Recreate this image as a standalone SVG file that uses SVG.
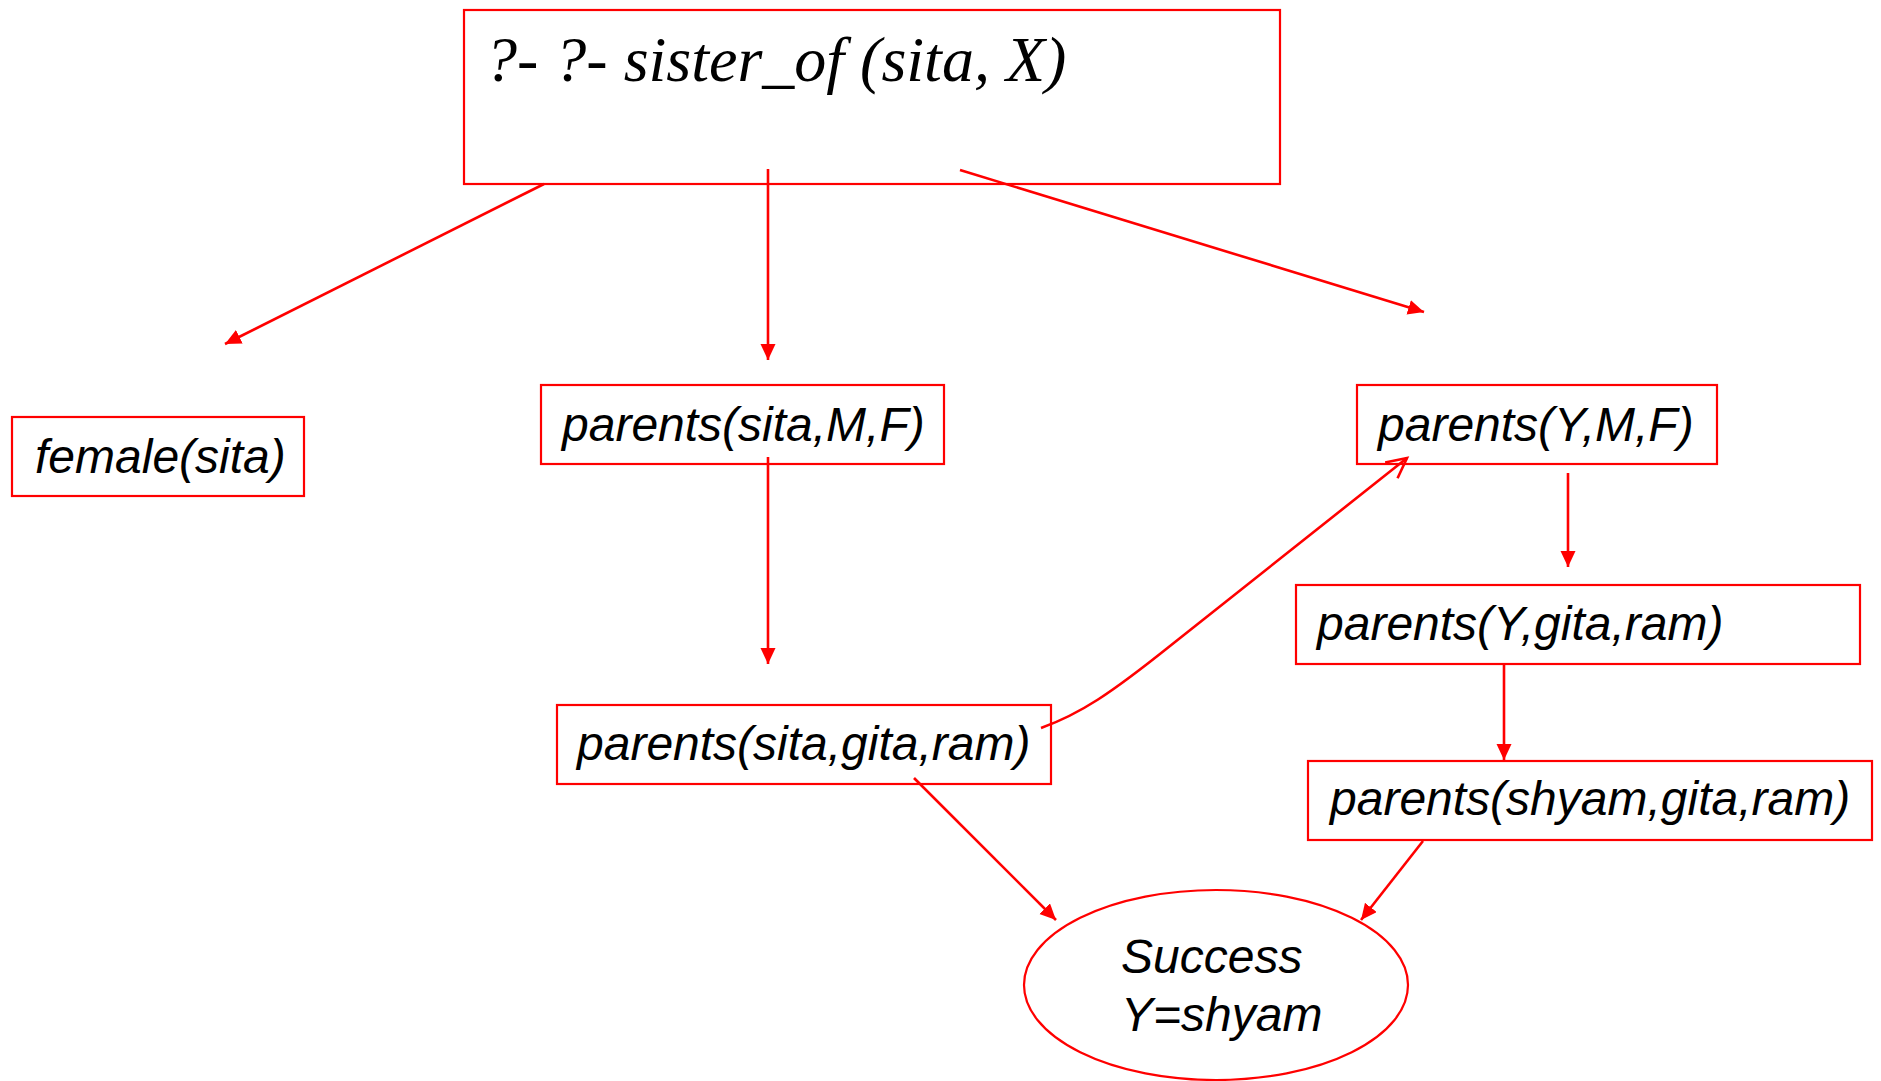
<svg xmlns="http://www.w3.org/2000/svg" width="1881" height="1081" viewBox="0 0 1881 1081">
<style>
.box{fill:#ffffff;stroke:#ff0000;stroke-width:2.2}
.lbl{font-family:"Liberation Sans",Arial,sans-serif;font-style:italic;font-size:48px;fill:#000000}
.q{font-family:"Liberation Serif","Times New Roman",serif;font-style:italic;font-size:64px;fill:#000000}
.edge{fill:none;stroke:#ff0000;stroke-width:2.6}
</style>
<defs>
<marker id="ah" markerUnits="userSpaceOnUse" markerWidth="17" markerHeight="16" refX="16" refY="7.5" orient="auto">
<path d="M0,0 L16,7.5 L0,15 z" fill="#ff0000"/>
</marker>
<marker id="oh" markerUnits="userSpaceOnUse" markerWidth="24" markerHeight="24" refX="21" refY="11" orient="auto">
<path d="M1,1 L21,11 L1,21" fill="none" stroke="#ff0000" stroke-width="2.6"/>
</marker>
</defs>
<rect width="1881" height="1081" fill="#ffffff"/>
<g id="n-query">
<rect class="box" x="464" y="10" width="816" height="174"/>
<text class="q" x="485" y="81">?- ?- sister_of (sita, X)</text>
</g>
<g id="n-female">
<rect class="box" x="12" y="417" width="292" height="79"/>
<text class="lbl" x="35" y="473">female(sita)</text>
</g>
<g id="n-parents-sita-MF">
<rect class="box" x="541" y="385" width="403" height="79"/>
<text class="lbl" x="562" y="441">parents(sita,M,F)</text>
</g>
<g id="n-parents-sita-gita-ram">
<rect class="box" x="557" y="705" width="494" height="79"/>
<text class="lbl" x="577" y="760">parents(sita,gita,ram)</text>
</g>
<g id="n-parents-Y-MF">
<rect class="box" x="1357" y="385" width="360" height="79"/>
<text class="lbl" x="1378" y="441">parents(Y,M,F)</text>
</g>
<g id="n-parents-Y-gita-ram">
<rect class="box" x="1296" y="585" width="564" height="79"/>
<text class="lbl" x="1317" y="640">parents(Y,gita,ram)</text>
</g>
<g id="n-parents-shyam">
<rect class="box" x="1308" y="761" width="564" height="79"/>
<text class="lbl" x="1330" y="815">parents(shyam,gita,ram)</text>
</g>
<g id="n-success">
<ellipse class="box" cx="1216" cy="985" rx="192" ry="95"/>
<text class="lbl" x="1121" y="973">Success</text>
<text class="lbl" x="1121" y="1031">Y=shyam</text>
</g>
<g id="connectors">
<path class="edge" d="M544,184 L225,344" marker-end="url(#ah)"/>
<path class="edge" d="M768,169 L768,360" marker-end="url(#ah)"/>
<path class="edge" d="M960,170 L1424,312" marker-end="url(#ah)"/>
<path class="edge" d="M768,457 L768,664" marker-end="url(#ah)"/>
<path class="edge" d="M1568,473 L1568,567" marker-end="url(#ah)"/>
<path class="edge" d="M1504,664 L1504,760" marker-end="url(#ah)"/>
<path class="edge" d="M1041,728 C1080,714 1110,694 1170,646 L1407,458" marker-end="url(#oh)"/>
<path class="edge" d="M914,778 L1056,920" marker-end="url(#ah)"/>
<path class="edge" d="M1423,841 L1361,920" marker-end="url(#ah)"/>
</g>
</svg>
